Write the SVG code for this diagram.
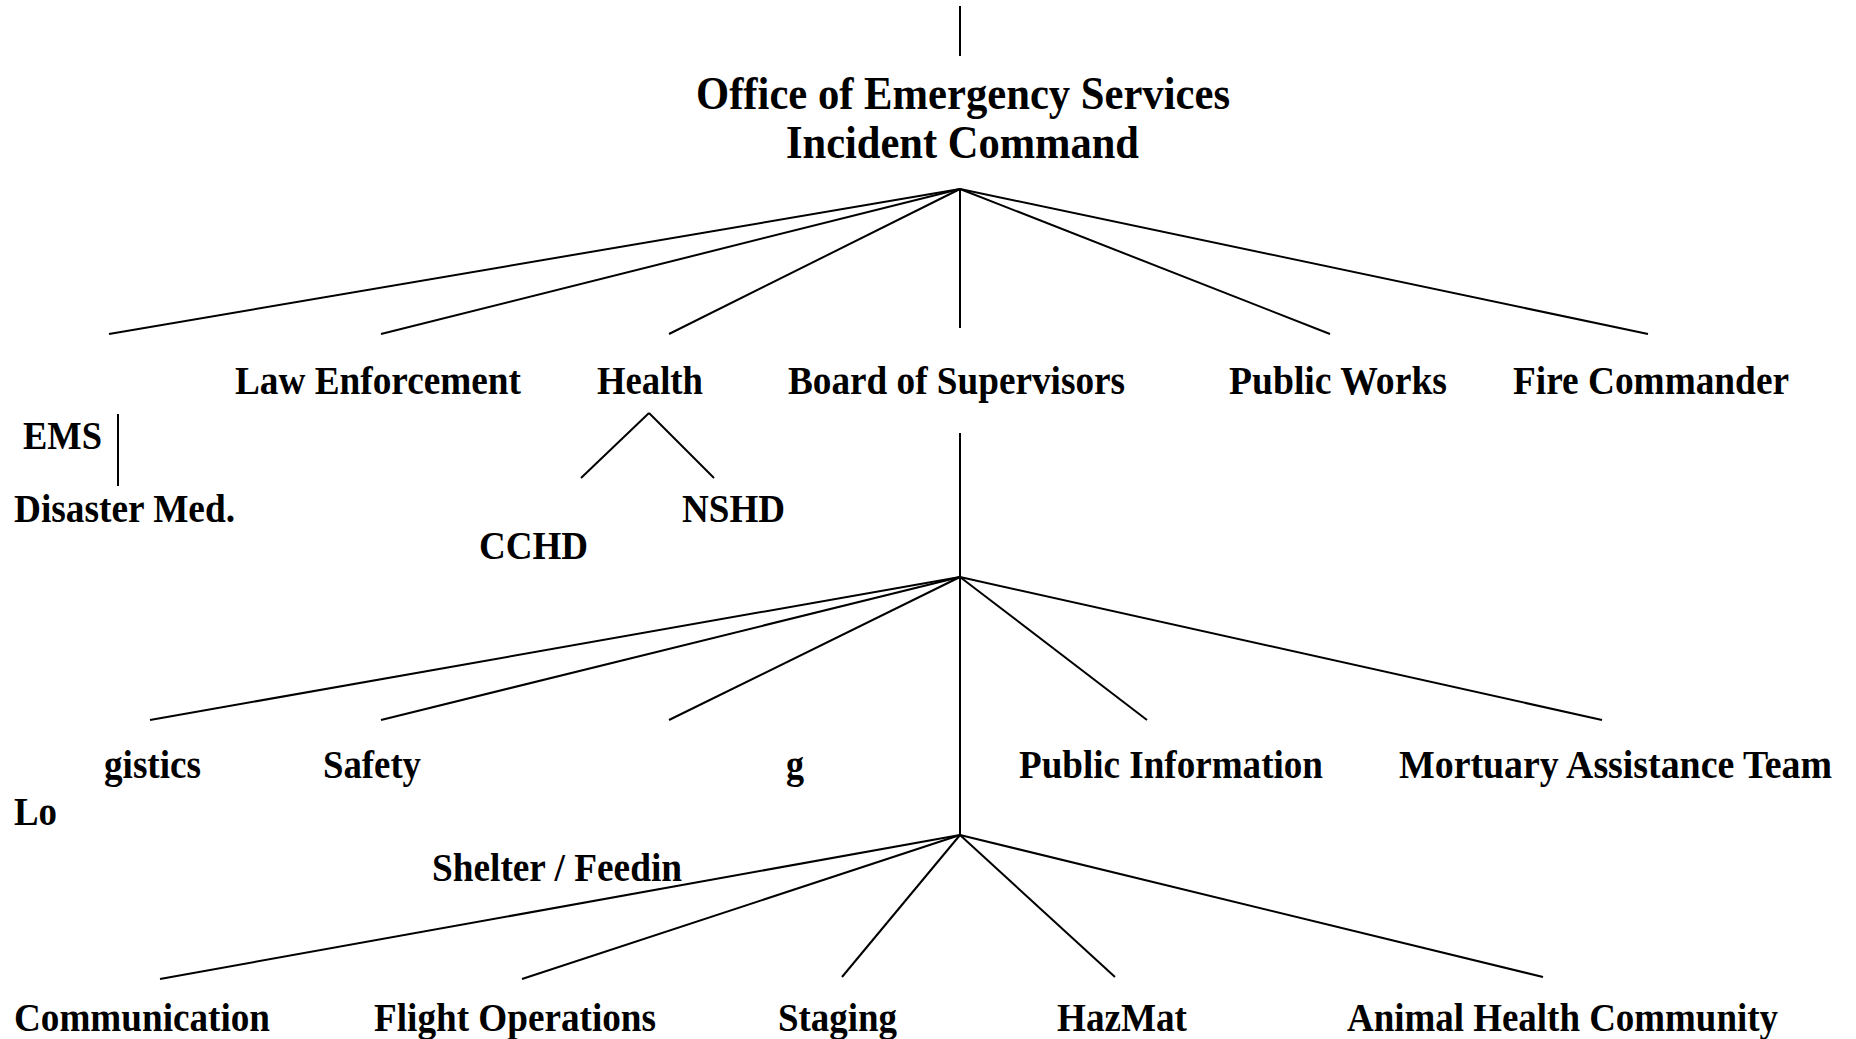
<svg xmlns="http://www.w3.org/2000/svg" width="1856" height="1039" viewBox="0 0 1856 1039">
<style>
.t{font-family:"Liberation Serif","Times New Roman",serif;font-weight:bold;font-size:40px;fill:#000}
.h{font-size:46px}
.c line{stroke:#000;stroke-width:2;fill:none}
</style>
<rect width="1856" height="1039" fill="#fff"/>
<g id="connectors" class="c">
<line x1="960" y1="6" x2="960" y2="56"/>
<line x1="960" y1="189" x2="109" y2="334"/>
<line x1="960" y1="189" x2="381" y2="334"/>
<line x1="960" y1="189" x2="669" y2="334"/>
<line x1="960" y1="189" x2="960" y2="328"/>
<line x1="960" y1="189" x2="1330" y2="334"/>
<line x1="960" y1="189" x2="1648" y2="334"/>
<line x1="118" y1="414" x2="118" y2="486"/>
<line x1="649" y1="413" x2="581" y2="478"/>
<line x1="649" y1="413" x2="714" y2="478"/>
<line x1="960" y1="433" x2="960" y2="835"/>
<line x1="960" y1="577" x2="150" y2="720"/>
<line x1="960" y1="577" x2="381" y2="720"/>
<line x1="960" y1="577" x2="669" y2="720"/>
<line x1="960" y1="577" x2="1147" y2="720"/>
<line x1="960" y1="577" x2="1602" y2="720"/>
<line x1="960" y1="835" x2="160" y2="979"/>
<line x1="960" y1="835" x2="522" y2="979"/>
<line x1="960" y1="835" x2="842" y2="977"/>
<line x1="960" y1="835" x2="1115" y2="977"/>
<line x1="960" y1="835" x2="1543" y2="977"/>
</g>
<g id="oes"><text class="t h" x="696" y="109" textLength="534" lengthAdjust="spacingAndGlyphs">Office of Emergency Services</text>
<text class="t h" x="786" y="158" textLength="353" lengthAdjust="spacingAndGlyphs">Incident Command</text></g>
<g id="law"><text class="t" x="235" y="394" textLength="286" lengthAdjust="spacingAndGlyphs">Law Enforcement</text></g>
<g id="health"><text class="t" x="597" y="394" textLength="106" lengthAdjust="spacingAndGlyphs">Health</text></g>
<g id="board"><text class="t" x="788" y="394" textLength="337" lengthAdjust="spacingAndGlyphs">Board of Supervisors</text></g>
<g id="publicworks"><text class="t" x="1229" y="394" textLength="218" lengthAdjust="spacingAndGlyphs">Public Works</text></g>
<g id="fire"><text class="t" x="1513" y="394" textLength="276" lengthAdjust="spacingAndGlyphs">Fire Commander</text></g>
<g id="ems"><text class="t" x="23" y="449" textLength="79" lengthAdjust="spacingAndGlyphs">EMS</text></g>
<g id="disaster"><text class="t" x="14" y="522" textLength="221" lengthAdjust="spacingAndGlyphs">Disaster Med.</text></g>
<g id="nshd"><text class="t" x="682" y="522" textLength="103" lengthAdjust="spacingAndGlyphs">NSHD</text></g>
<g id="cchd"><text class="t" x="479" y="559" textLength="109" lengthAdjust="spacingAndGlyphs">CCHD</text></g>
<g id="logistics"><text class="t" x="104" y="778" textLength="97" lengthAdjust="spacingAndGlyphs">gistics</text>
<text class="t" x="14" y="825" textLength="43" lengthAdjust="spacingAndGlyphs">Lo</text></g>
<g id="safety"><text class="t" x="323" y="778" textLength="98" lengthAdjust="spacingAndGlyphs">Safety</text></g>
<g id="shelter"><text class="t" x="786" y="778" textLength="18" lengthAdjust="spacingAndGlyphs">g</text>
<text class="t" x="432" y="881" textLength="250" lengthAdjust="spacingAndGlyphs">Shelter / Feedin</text></g>
<g id="pubinfo"><text class="t" x="1019" y="778" textLength="304" lengthAdjust="spacingAndGlyphs">Public Information</text></g>
<g id="mortuary"><text class="t" x="1399" y="778" textLength="433" lengthAdjust="spacingAndGlyphs">Mortuary Assistance Team</text></g>
<g id="comm"><text class="t" x="14" y="1031" textLength="256" lengthAdjust="spacingAndGlyphs">Communication</text></g>
<g id="flight"><text class="t" x="374" y="1031" textLength="282" lengthAdjust="spacingAndGlyphs">Flight Operations</text></g>
<g id="staging"><text class="t" x="778" y="1031" textLength="119" lengthAdjust="spacingAndGlyphs">Staging</text></g>
<g id="hazmat"><text class="t" x="1057" y="1031" textLength="130" lengthAdjust="spacingAndGlyphs">HazMat</text></g>
<g id="animal"><text class="t" x="1347" y="1031" textLength="431" lengthAdjust="spacingAndGlyphs">Animal Health Community</text></g>
</svg>
